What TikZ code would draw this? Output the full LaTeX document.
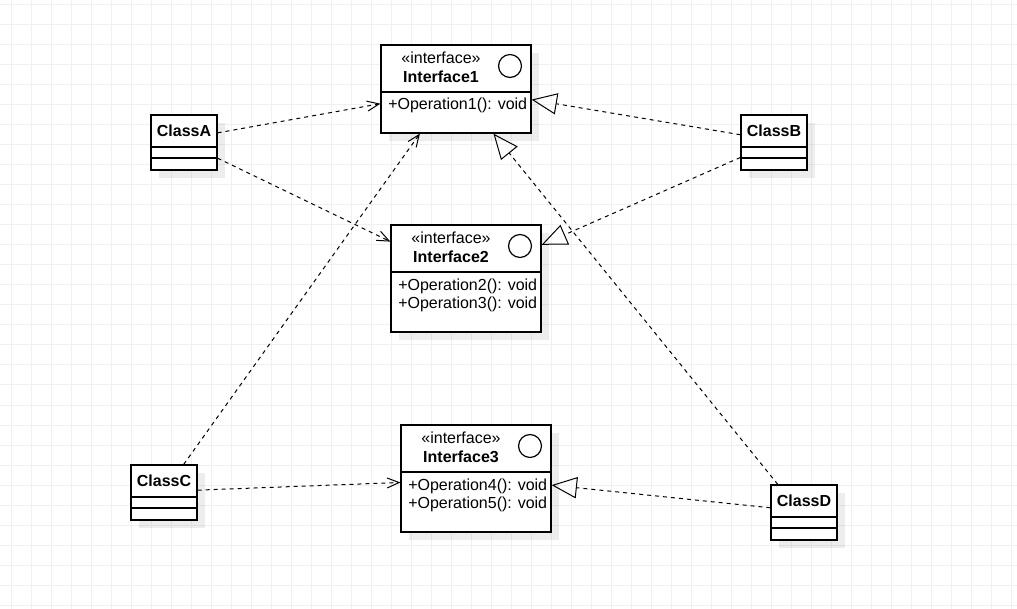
\documentclass[tikz,border=0pt]{standalone}
\usepackage{fontspec}
\setmainfont{Liberation Sans}
\usetikzlibrary{arrows.meta, shadows}

\begin{document}
\begin{tikzpicture}[x=0.75pt, y=-0.75pt,
  box/.style={draw, line width=0.9pt, fill=white, inner sep=0pt,
    drop shadow={shadow xshift=6pt, shadow yshift=-6pt, fill=black, opacity=0.07}},
  iface/.style={box, minimum width=112.5pt},
  cls/.style={box, minimum width=49.5pt, minimum height=41.25pt},
  txt/.style={inner sep=0pt, font=\fontsize{12}{14}\selectfont},
  op/.style={txt, anchor=west},
  dep/.style={dashed, line width=0.75pt, -{Straight Barb[length=9pt, width=7.5pt]}},
  real/.style={dashed, line width=0.75pt, -{Triangle[open, length=19pt, width=16pt]}}]
\useasboundingbox (0,0) rectangle (1017,609);
\fill[white] (0,0) rectangle (1017,609);
\foreach \i in {0,...,50} \draw[black!6, line width=0.75pt] (11+20*\i,0) -- (11+20*\i,609);
\foreach \j in {0,...,30} \draw[black!6, line width=0.75pt] (0,5+20*\j) -- (1017,5+20*\j);

% interfaces
\node[iface, minimum height=66pt] (I1) at (456,89) {};
\node[iface, minimum height=80.25pt] (I2) at (466,278.5) {};
\node[iface, minimum height=80.25pt] (I3) at (476,478.5) {};
\draw[line width=0.9pt] (I1.west |- 0,92) -- (I1.east |- 0,92);
\draw[line width=0.9pt] (I2.west |- 0,272) -- (I2.east |- 0,272);
\draw[line width=0.9pt] (I3.west |- 0,472) -- (I3.east |- 0,472);
\draw[line width=0.9pt] (510,66) circle (8.6pt);
\draw[line width=0.9pt] (520,246) circle (8.6pt);
\draw[line width=0.9pt] (530,446) circle (8.6pt);
\node[txt] (s1) at (441,58) {«interface»};
\node[txt, font=\fontsize{12}{14}\selectfont\bfseries] (n1) at (441,77) {Interface1};
\node[txt] (s2) at (451,238) {«interface»};
\node[txt, font=\fontsize{12}{14}\selectfont\bfseries] (n2) at (451,257) {Interface2};
\node[txt] (s3) at (461,438) {«interface»};
\node[txt, font=\fontsize{12}{14}\selectfont\bfseries] (n3) at (461,457) {Interface3};
\node[op] (o1) at (388,105.5) {+Operation1(): void};
\node[op] (o2) at (398,286.5) {+Operation2(): void};
\node[op] (o3) at (398,304) {+Operation3(): void};
\node[op] (o4) at (408,486.5) {+Operation4(): void};
\node[op] (o5) at (408,504) {+Operation5(): void};

% classes
\node[cls] (A) at (184,142.5) {};
\node[cls] (B) at (774,142.5) {};
\node[cls] (C) at (164,492.5) {};
\node[cls] (D) at (804,512.5) {};
\foreach \c/\t in {A/115, B/115, C/465, D/485} {
  \draw[line width=0.9pt] (\c.west |- 0,\t+32) -- (\c.east |- 0,\t+32);
  \draw[line width=0.9pt] (\c.west |- 0,\t+43) -- (\c.east |- 0,\t+43);
}
\node[txt, font=\fontsize{12}{14}\selectfont\bfseries] (ta) at (184,131) {ClassA};
\node[txt, font=\fontsize{12}{14}\selectfont\bfseries] (tb) at (774,131) {ClassB};
\node[txt, font=\fontsize{12}{14}\selectfont\bfseries] (tc) at (164,481) {ClassC};
\node[txt, font=\fontsize{12}{14}\selectfont\bfseries] (td) at (804,501) {ClassD};

% connectors
\draw[dep] (A.16) -- (I1.191);
\draw[dep] (A.-25) -- (I2.154);
\draw[dep] (C.55) -- (I1.231);
\draw[dep] (C.4) -- (I3.183);
\draw[real] (B.167) -- (I1.-8);
\draw[real] (B.204) -- (I2.24);
\draw[real] (D.133) -- (I1.-50);
\draw[real] (D.172) -- (I3.-5);
\end{tikzpicture}
\end{document}
